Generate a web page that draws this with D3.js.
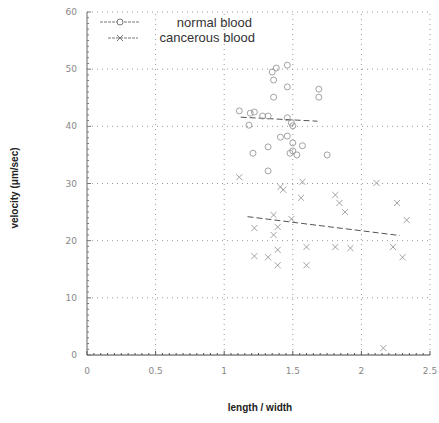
<!DOCTYPE html>
<html>
<head>
<meta charset="utf-8">
<script src="https://cdn.jsdelivr.net/npm/d3@7"></script>
<style>
  body { margin: 0; background: #fff; }
  .tick-label { font-family: "DejaVu Sans", sans-serif; font-size: 9px; fill: #888; }
  .axis-title { font-family: "Liberation Sans", Arial, sans-serif; font-size: 10px; font-weight: bold; fill: #222; }
  .legend-text { font-family: "Liberation Sans", Arial, sans-serif; font-size: 13px; fill: #333; }
</style>
</head>
<body>
<div id="chart"></div>
<script>
// ratio length/width vs velocity
var normalX = [1.35, 1.38, 1.46, 1.36, 1.46, 1.36, 1.69, 1.69, 1.11, 1.19, 1.22, 1.28, 1.32, 1.18,
               1.46, 1.49, 1.50, 1.41, 1.46, 1.50, 1.57, 1.50, 1.32, 1.21, 1.53, 1.75, 1.48, 1.32];
var normalY = [49.5, 50.2, 50.7, 48.1, 46.9, 45.1, 46.5, 45.1, 42.7, 42.3, 42.5, 41.8, 41.8, 40.2,
               41.5, 40.6, 40.1, 38.1, 38.3, 37.1, 36.6, 35.7, 36.4, 35.3, 35.0, 35.0, 35.3, 32.2];

var cancerX = [1.11, 1.41, 1.43, 1.57, 1.56, 1.81, 1.84, 1.88, 2.11, 2.26, 2.33, 1.36, 1.39, 1.49,
               1.22, 1.36, 1.39, 1.32, 1.22, 1.39, 1.60, 1.60, 1.81, 1.92, 2.23, 2.30, 2.16];
var cancerY = [31.1, 29.4, 28.9, 30.3, 27.5, 28.0, 26.6, 25.0, 30.1, 26.6, 23.6, 24.5, 22.4, 23.8,
               22.2, 21.0, 18.4, 17.1, 17.3, 15.7, 18.9, 15.7, 18.9, 18.7, 18.9, 17.1, 1.2];

// fitted lines as drawn
var normalFit = [[1.12, 41.6], [1.68, 40.9]];
var cancerFit = [[1.17, 24.2], [2.28, 20.9]];

var xTicks = [0, 0.5, 1, 1.5, 2, 2.5];
var xTickLabels = ["0", "0.5", "1", "1.5", "2", "2.5"];
var yTicks = [0, 10, 20, 30, 40, 50, 60];
var seriesNames = ["normal blood", "cancerous blood"];

var W = 439, H = 423;
var margin = {top: 12, right: 9, bottom: 68, left: 87};

var svg = d3.select("#chart").append("svg").attr("width", W).attr("height", H);

var x = d3.scaleLinear().domain([0, 2.5]).range([margin.left, W - margin.right]);
var y = d3.scaleLinear().domain([0, 60]).range([H - margin.bottom, margin.top]);

// dotted grid
svg.selectAll(".vgrid").data(xTicks.slice(1)).enter().append("line")
  .attr("x1", function(d) { return x(d); }).attr("x2", function(d) { return x(d); })
  .attr("y1", y(0)).attr("y2", y(60))
  .attr("stroke", "#999").attr("stroke-width", 1).attr("stroke-dasharray", "1,4");
svg.selectAll(".hgrid").data(yTicks.slice(1)).enter().append("line")
  .attr("x1", x(0)).attr("x2", x(2.5))
  .attr("y1", function(d) { return y(d); }).attr("y2", function(d) { return y(d); })
  .attr("stroke", "#999").attr("stroke-width", 1).attr("stroke-dasharray", "1,4");

// axes lines with minor ticks
svg.append("line").attr("x1", x(0)).attr("x2", x(0)).attr("y1", y(0)).attr("y2", y(60))
  .attr("stroke", "#666").attr("stroke-width", 1);
svg.append("line").attr("x1", x(0)).attr("x2", x(2.5)).attr("y1", y(0)).attr("y2", y(0))
  .attr("stroke", "#444").attr("stroke-width", 1);

svg.selectAll(".yminor").data(d3.range(0, 61, 1)).enter().append("line")
  .attr("x1", x(0)).attr("x2", function(d) { return x(0) + (d % 10 === 0 ? 4 : 2); })
  .attr("y1", function(d) { return y(d); }).attr("y2", function(d) { return y(d); })
  .attr("stroke", "#777");
svg.selectAll(".xminor").data(d3.range(0, 51, 1)).enter().append("line")
  .attr("x1", function(d) { return x(d * 0.05); }).attr("x2", function(d) { return x(d * 0.05); })
  .attr("y1", y(0)).attr("y2", function(d) { return y(0) - (d % 10 === 0 ? 4 : 2); })
  .attr("stroke", "#555");

// tick labels
svg.selectAll(".xlab").data(xTicks).enter().append("text")
  .attr("class", "tick-label")
  .attr("x", function(d) { return x(d); }).attr("y", y(0) + 19)
  .attr("text-anchor", "middle")
  .text(function(d, i) { return xTickLabels[i]; });
svg.selectAll(".ylab").data(yTicks).enter().append("text")
  .attr("class", "tick-label")
  .attr("x", x(0) - 10).attr("y", function(d) { return y(d) + 3; })
  .attr("text-anchor", "end")
  .text(function(d) { return d; });

// axis titles
svg.append("text").attr("class", "axis-title")
  .attr("x", 260).attr("y", 411).attr("text-anchor", "middle")
  .text("length / width");
svg.append("text").attr("class", "axis-title")
  .attr("transform", "translate(18," + 188 + ") rotate(-90)")
  .attr("text-anchor", "middle")
  .text("velocity (μm/sec)");

var line = d3.line().x(function(d) { return x(d[0]); }).y(function(d) { return y(d[1]); });

// fit lines
svg.append("path").attr("d", line(normalFit)).attr("fill", "none")
  .attr("stroke", "#555").attr("stroke-width", 1).attr("stroke-dasharray", "6,3");
svg.append("path").attr("d", line(cancerFit)).attr("fill", "none")
  .attr("stroke", "#555").attr("stroke-width", 1).attr("stroke-dasharray", "6,3");

// markers
var normalPts = d3.zip(normalX, normalY);
var cancerPts = d3.zip(cancerX, cancerY);

svg.selectAll(".normal").data(normalPts).enter().append("circle")
  .attr("cx", function(d) { return x(d[0]); }).attr("cy", function(d) { return y(d[1]); })
  .attr("r", 3).attr("fill", "none").attr("stroke", "#999").attr("stroke-width", 0.9);

var cross = d3.symbol().type(d3.symbolX).size(26);
svg.selectAll(".cancer").data(cancerPts).enter().append("path")
  .attr("d", cross)
  .attr("transform", function(d) { return "translate(" + x(d[0]) + "," + y(d[1]) + ")"; })
  .attr("fill", "none").attr("stroke", "#999").attr("stroke-width", 0.9);

// legend
var lg = svg.append("g");
lg.append("line").attr("x1", 100).attr("x2", 140).attr("y1", 22).attr("y2", 22)
  .attr("stroke", "#777").attr("stroke-dasharray", "3,1");
lg.append("circle").attr("cx", 120).attr("cy", 22).attr("r", 3)
  .attr("fill", "#fff").attr("stroke", "#777");
lg.append("line").attr("x1", 108).attr("x2", 138).attr("y1", 38).attr("y2", 38)
  .attr("stroke", "#777").attr("stroke-dasharray", "3,1");
lg.append("path").attr("d", cross).attr("transform", "translate(120,38)")
  .attr("fill", "none").attr("stroke", "#777");
lg.append("text").attr("class", "legend-text").attr("x", 252).attr("y", 27)
  .attr("text-anchor", "end").text(seriesNames[0]);
lg.append("text").attr("class", "legend-text").attr("x", 255).attr("y", 42)
  .attr("text-anchor", "end").text(seriesNames[1]);
</script>
</body>
</html>
